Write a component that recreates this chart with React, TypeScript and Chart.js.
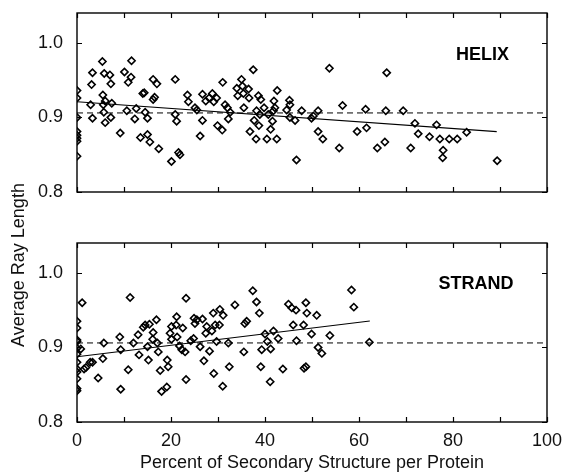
import React, { useEffect, useRef } from "react";
import { Chart, registerables } from "chart.js";

Chart.register(...registerables);

// ---------- data ----------
const helixX = [
  0, 0, 0, 0, 0, 0, 0, 0,
  3.3, 3.1, 2.9, 3.3,
  5.4, 5.8, 7.0, 7.2, 5.5, 6.0, 5.6, 5.7, 6.0, 7.2, 7.4,
  9.2, 10.1, 10.9, 11.6, 11.5, 10.6, 12.3, 12.6,
  13.5, 14.0, 14.3, 14.5, 15.0, 15.0, 15.5, 16.2, 16.5, 16.2, 17.0, 17.4,
  20.1, 20.9, 20.9, 21.2, 21.6, 21.9,
  23.5, 23.7, 25.1, 25.5, 26.2, 26.7, 26.7, 27.4, 28.1, 28.8, 29.1, 29.7,
  29.9, 30.9, 31.0, 31.5, 32.0, 32.2, 32.6,
  34.0, 34.2, 35.0, 35.2, 35.4, 35.5, 36.5, 36.6, 36.8, 37.5, 37.7, 38.2, 38.1, 38.7, 38.6, 39.1, 38.9, 39.8, 40.4, 40.7, 41.2, 41.6, 41.9, 42.1, 42.5, 42.6, 41.8,
  44.6, 45.2, 45.3, 45.3, 46.4, 46.7, 47.8,
  49.9, 50.3, 51.3, 51.3, 52.3, 53.7, 55.8, 56.5, 59.6, 61.4, 61.6, 63.9, 65.5, 65.7, 65.9,
  69.4, 71.0, 71.9, 72.6, 75.0, 76.5, 77.2, 77.9, 77.8, 79.2, 80.9, 82.9, 89.4,
];
const helixY = [
  0.936, 0.926, 0.900, 0.881, 0.876, 0.872, 0.868, 0.848,
  0.960, 0.944, 0.917, 0.899,
  0.975, 0.959, 0.957, 0.945, 0.930, 0.922, 0.917, 0.907, 0.893, 0.900, 0.919,
  0.879, 0.961, 0.947, 0.976, 0.954, 0.909, 0.898, 0.912,
  0.873, 0.932, 0.933, 0.907, 0.899, 0.877, 0.867, 0.924, 0.927, 0.951, 0.945, 0.858,
  0.841, 0.951, 0.904, 0.895, 0.853, 0.850,
  0.930, 0.921, 0.913, 0.910, 0.875, 0.896, 0.931, 0.922, 0.926, 0.932, 0.921, 0.926,
  0.889, 0.883, 0.947, 0.917, 0.913, 0.898, 0.907,
  0.939, 0.929, 0.951, 0.942, 0.932, 0.913, 0.938, 0.926, 0.881, 0.964, 0.896, 0.909, 0.871, 0.889, 0.929, 0.924, 0.904, 0.913, 0.871, 0.904, 0.884, 0.895, 0.922, 0.913, 0.871, 0.936, 0.909,
  0.910, 0.923, 0.917, 0.900, 0.896, 0.843, 0.909,
  0.899, 0.902, 0.909, 0.881, 0.871, 0.966, 0.859, 0.916, 0.881, 0.911, 0.886, 0.859, 0.867, 0.909, 0.960,
  0.909, 0.859, 0.892, 0.878, 0.874, 0.890, 0.871, 0.856, 0.846, 0.871, 0.871, 0.880, 0.842,
];

const strandX = [
  0, 0, 0, 0, 0, 0, 0, 0, 0, 0, 0, 0,
  0.8, 1.1, 1.5, 1.9, 2.8, 3.3, 4.5, 5.5, 5.7,
  9.1, 9.3, 9.3, 10.9, 11.3, 12.0, 13.0, 13.2,
  14.1, 14.5, 15.0, 15.2, 15.4, 16.2, 16.1, 16.9, 17.3, 17.1,
  17.7, 18.0, 19.1, 19.2, 19.4, 20.1, 19.8, 20.1, 21.2, 21.1, 21.3, 21.8, 22.3, 22.5, 23.2, 23.2, 23.0, 24.2, 24.8, 24.9, 25.1, 25.5,
  26.2, 26.7, 27.0, 27.4, 27.6, 28.2, 28.7, 29.0, 29.1, 29.4, 29.7, 30.3, 30.4, 31.0, 31.1, 32.2, 32.4, 33.6,
  35.5, 35.7, 36.1, 37.4, 38.2, 38.8, 39.1, 39.3, 40.0, 40.5, 41.1, 41.2, 41.8, 42.8, 43.8,
  45.0, 45.7, 46.0, 46.6, 46.7, 48.2, 48.3, 48.7, 48.7, 48.9,
  49.9, 51.0, 51.3, 52.1, 53.8, 58.4, 58.9, 62.2,
];
const strandY = [
  0.935, 0.926, 0.910, 0.908, 0.899, 0.891, 0.880, 0.871, 0.867, 0.858, 0.845, 0.842,
  0.898, 0.960, 0.871, 0.873, 0.880, 0.880, 0.859, 0.885, 0.906,
  0.914, 0.897, 0.844, 0.870, 0.967, 0.906, 0.917, 0.890,
  0.927, 0.930, 0.901, 0.883, 0.931, 0.920, 0.911, 0.937, 0.894, 0.906,
  0.869, 0.841, 0.847, 0.883, 0.874, 0.911, 0.919, 0.928, 0.941, 0.930, 0.914, 0.902, 0.897, 0.926, 0.966, 0.857, 0.894, 0.909, 0.912, 0.939, 0.932, 0.937,
  0.901, 0.938, 0.882, 0.919, 0.928, 0.895, 0.922, 0.946, 0.865, 0.930, 0.908, 0.930, 0.951, 0.848, 0.943, 0.906, 0.874, 0.957,
  0.894, 0.932, 0.935, 0.976, 0.961, 0.946, 0.874, 0.897, 0.918, 0.908, 0.854, 0.898, 0.922, 0.912, 0.871,
  0.958, 0.953, 0.930, 0.950, 0.909, 0.930, 0.872, 0.960, 0.874, 0.946,
  0.918, 0.943, 0.900, 0.892, 0.916, 0.977, 0.954, 0.907,
];

const referenceLevel = 0.906;
const helixFitX = [0, 89.3];
const helixFitY = [0.921, 0.881];
const strandFitX = [0, 62.3];
const strandFitY = [0.8875, 0.9355];

const xTickValues = [0, 10, 20, 30, 40, 50, 60, 70, 80, 90, 100];
const xLabelValues = [0, 20, 40, 60, 80, 100];
const yTickValues = [0.8, 0.9, 1.0];
const panelLabels = ["HELIX", "STRAND"];
const panelLabelX = [86.3, 84.9];
const panelLabelY = [0.984, 0.985];
const xTitle = "Percent of Secondary Structure per Protein";
const yTitle = "Average Ray Length";

const FONT = "'Liberation Sans', Arial, Helvetica, sans-serif";
const W = 564;
const H = 474;

function makePanelPlugin(idx: number, isBottom: boolean) {
  return {
    id: "panelFrame" + idx,
    afterDraw(chart: any) {
      const ctx = chart.ctx;
      const a = chart.chartArea;
      const xs = chart.scales.x;
      const ys = chart.scales.y;
      ctx.save();
      ctx.strokeStyle = "#000";
      ctx.lineWidth = 1.4;
      ctx.strokeRect(a.left, a.top, a.right - a.left, a.bottom - a.top);
      ctx.lineWidth = 1.2;
      ctx.beginPath();
      const tl = 5;
      xTickValues.forEach((v) => {
        const px = Math.round(xs.getPixelForValue(v)) + 0.5;
        ctx.moveTo(px, a.bottom);
        ctx.lineTo(px, a.bottom - tl);
        ctx.moveTo(px, a.top);
        ctx.lineTo(px, a.top + tl);
      });
      yTickValues.forEach((v) => {
        const py = Math.round(ys.getPixelForValue(v)) + 0.5;
        ctx.moveTo(a.left, py);
        ctx.lineTo(a.left + tl, py);
        ctx.moveTo(a.right, py);
        ctx.lineTo(a.right - tl, py);
      });
      ctx.stroke();

      ctx.fillStyle = "#000";
      ctx.font = "bold 18px " + FONT;
      ctx.textAlign = "center";
      ctx.textBaseline = "middle";
      ctx.fillText(
        panelLabels[idx],
        xs.getPixelForValue(panelLabelX[idx]),
        ys.getPixelForValue(panelLabelY[idx])
      );

      if (isBottom) {
        ctx.fillStyle = "#111";
        ctx.font = "18px " + FONT;
        ctx.textAlign = "center";
        ctx.textBaseline = "alphabetic";
        ctx.fillText(xTitle, (a.left + a.right) / 2, 468);
        ctx.save();
        ctx.translate(24, 265);
        ctx.rotate(-Math.PI / 2);
        ctx.fillText(yTitle, 0, 0);
        ctx.restore();
      }
      ctx.restore();
    },
  };
}

function buildConfig(idx: number): any {
  const isBottom = idx === 1;
  const xsArr = isBottom ? strandX : helixX;
  const ysArr = isBottom ? strandY : helixY;
  const fitX = isBottom ? strandFitX : helixFitX;
  const fitY = isBottom ? strandFitY : helixFitY;
  const points = xsArr.map((x, i) => ({ x, y: ysArr[i] }));
  const fit = fitX.map((x, i) => ({ x, y: fitY[i] }));
  const ref = [
    { x: 0, y: referenceLevel },
    { x: 100, y: referenceLevel },
  ];
  return {
    type: "scatter",
    data: {
      datasets: [
        {
          type: "line",
          data: ref,
          borderColor: "#000",
          borderWidth: 1,
          borderDash: [6, 4],
          pointRadius: 0,
          fill: false,
        },
        {
          type: "line",
          data: fit,
          borderColor: "#000",
          borderWidth: 1.1,
          pointRadius: 0,
          fill: false,
        },
        {
          type: "scatter",
          data: points,
          pointStyle: "rectRot",
          pointRadius: 3.6,
          borderColor: "#000",
          backgroundColor: "rgba(0,0,0,0)",
          borderWidth: 1.6,
        },
      ],
    },
    options: {
      responsive: false,
      animation: false,
      events: [],
      layout: {
        padding: { left: 0, right: 17, top: isBottom ? 243 : 13, bottom: 0 },
      },
      plugins: {
        legend: { display: false },
        tooltip: { enabled: false },
        title: { display: false },
      },
      scales: {
        x: {
          type: "linear",
          min: 0,
          max: 100,
          afterBuildTicks: (s: any) => {
            s.ticks = xLabelValues.map((v) => ({ value: v }));
          },
          afterFit: (s: any) => {
            s.height = isBottom ? 52 : 282;
            s.paddingLeft = 0;
            s.paddingRight = 0;
          },
          ticks: {
            display: isBottom,
            autoSkip: false,
            maxRotation: 0,
            padding: 8,
            color: "#111",
            font: { family: FONT, size: 18 },
            callback: (v: any) => String(v),
          },
          grid: { display: false, drawTicks: false },
          border: { display: false },
        },
        y: {
          type: "linear",
          min: 0.8,
          max: 1.04,
          afterBuildTicks: (s: any) => {
            s.ticks = yTickValues.map((v) => ({ value: v }));
          },
          afterFit: (s: any) => {
            s.width = 77;
            s.paddingTop = 0;
            s.paddingBottom = 0;
          },
          ticks: {
            padding: 14,
            color: "#111",
            font: { family: FONT, size: 18 },
            callback: (v: any) => Number(v).toFixed(1),
          },
          grid: { display: false, drawTicks: false },
          border: { display: false },
        },
      },
    },
    plugins: [makePanelPlugin(idx, isBottom)],
  };
}

function Panel({ idx }: { idx: number }) {
  const ref = useRef<HTMLCanvasElement | null>(null);
  useEffect(() => {
    if (!ref.current) return;
    const chart = new Chart(ref.current, buildConfig(idx));
    return () => chart.destroy();
  }, [idx]);
  return (
    <canvas
      ref={ref}
      width={W}
      height={H}
      style={{ position: "absolute", left: 0, top: 0, width: W, height: H }}
    />
  );
}

export default function App() {
  return (
    <div
      style={{
        position: "absolute",
        left: 0,
        top: 0,
        width: W,
        height: H,
        background: "#fff",
      }}
    >
      <Panel idx={0} />
      <Panel idx={1} />
    </div>
  );
}
